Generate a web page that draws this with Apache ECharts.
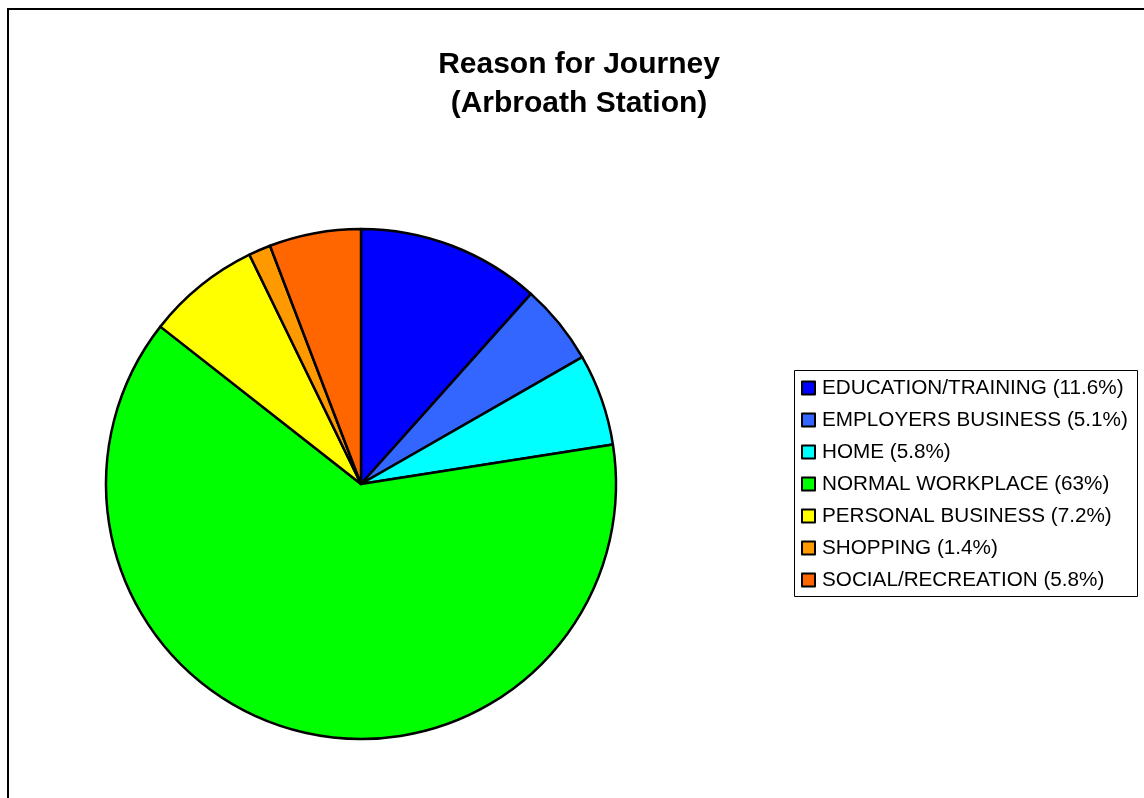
<!DOCTYPE html>
<html>
<head>
<meta charset="utf-8">
<script src="https://cdn.jsdelivr.net/npm/echarts@6/dist/echarts.min.js"></script>
<style>
  html, body { margin: 0; padding: 0; background: #fff; }
  #chart { width: 1144px; height: 798px; }
</style>
</head>
<body>
<div id="chart"></div>
<script>
// Journey purposes and their share of trips (%)
const categories = [
  'EDUCATION/TRAINING',
  'EMPLOYERS BUSINESS',
  'HOME',
  'NORMAL WORKPLACE',
  'PERSONAL BUSINESS',
  'SHOPPING',
  'SOCIAL/RECREATION'
];
const shares = [11.6, 5.1, 5.8, 63, 7.2, 1.4, 5.8];
const sliceColors = ['#0000FF', '#3366FF', '#00FFFF', '#00FF00', '#FFFF00', '#FF9900', '#FF6600'];

const font = '"Liberation Sans", Arial, sans-serif';
const shareByName = {};
categories.forEach((c, i) => { shareByName[c] = shares[i]; });

const chart = echarts.init(document.getElementById('chart'), null, { renderer: 'canvas' });

chart.setOption({
  animation: false,
  backgroundColor: '#ffffff',
  color: sliceColors,
  title: {
    text: 'Reason for Journey\n(Arbroath Station)',
    left: 574,
    top: 40,
    textAlign: 'center',
    textStyle: {
      fontFamily: font,
      fontSize: 30,
      fontWeight: 'bold',
      color: '#000',
      lineHeight: 39
    }
  },
  legend: {
    orient: 'vertical',
    left: 796,
    top: 372,
    itemWidth: 13,
    itemHeight: 13,
    itemGap: 10,
    icon: 'rect',
    selectedMode: false,
    itemStyle: { borderColor: '#000', borderWidth: 2 },
    textStyle: {
      fontFamily: font,
      fontSize: 20.7,
      color: '#000',
      lineHeight: 22,
      padding: [0, 0, 0, 2]
    },
    formatter: name => name + ' (' + shareByName[name] + '%)',
    data: categories
  },
  graphic: [
    {
      type: 'rect',
      shape: { x: 8, y: 9, width: 1160, height: 800 },
      style: { fill: 'none', stroke: '#000', lineWidth: 2 },
      silent: true,
      z: -1
    },
    {
      type: 'rect',
      shape: { x: 794.5, y: 370.5, width: 343, height: 226 },
      style: { fill: '#fff', stroke: '#000', lineWidth: 1 },
      silent: true,
      z: -1
    }
  ],
  series: [{
    type: 'pie',
    center: [361, 484],
    radius: 255,
    startAngle: 90,
    clockwise: true,
    label: { show: false },
    labelLine: { show: false },
    emphasis: { disabled: true },
    itemStyle: { borderColor: '#000', borderWidth: 2.5 },
    data: categories.map((c, i) => ({ name: c, value: shares[i] }))
  }]
});
</script>
</body>
</html>
